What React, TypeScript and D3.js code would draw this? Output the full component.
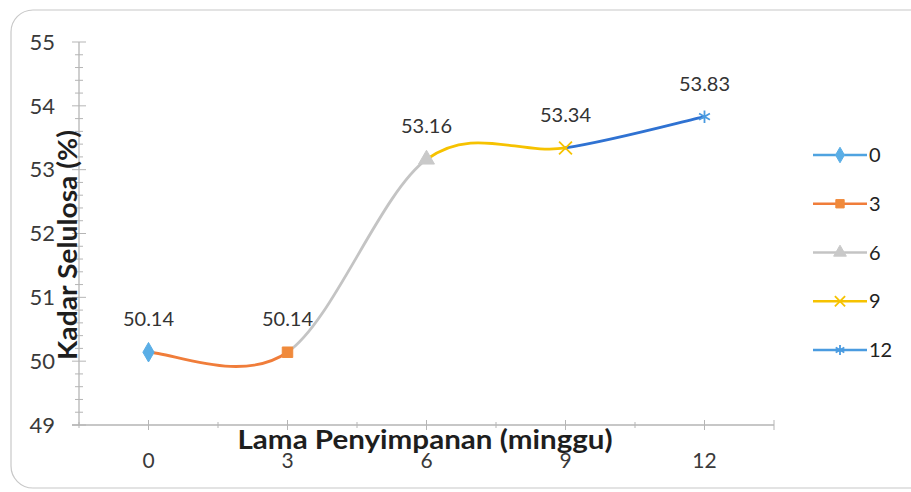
import React, { useEffect, useRef } from 'react';
import * as d3 from 'd3';

const weeks = [0, 3, 6, 9, 12];
const cellulose = [50.14, 50.14, 53.16, 53.34, 53.83];
const seriesNames = ['0', '3', '6', '9', '12'];
const lineColors = ['#4fa3e0', '#f07d3a', '#c4c4c4', '#f6c200', '#2f72d2'];
const markerColors = ['#5aaee6', '#f08a3c', '#c9c9c9', '#f6c200', '#4a9be0'];
const markerTypes = ['diamond', 'square', 'triangle', 'times', 'asterisk'];
const yTicks = [49, 50, 51, 52, 53, 54, 55];
const xTicks = [0, 3, 6, 9, 12];

const W = 911;
const H = 492;
const font = 'Lato, "Open Sans", sans-serif';

const symbolFor = (t: string) => {
  switch (t) {
    case 'diamond':
      return d3.symbolDiamond;
    case 'square':
      return d3.symbolSquare;
    case 'triangle':
      return d3.symbolTriangle;
    case 'times':
      return d3.symbolTimes;
    default:
      return d3.symbolAsterisk;
  }
};

const App: React.FC = () => {
  const svgRef = useRef<SVGSVGElement>(null);

  useEffect(() => {
    if (!svgRef.current) return;
    const svg = d3.select(svgRef.current);
    svg.selectAll('*').remove();

    const x = d3.scaleLinear().domain([-1.5, 13.5]).range([79, 774]);
    const y = d3.scaleLinear().domain([49, 55]).range([425, 42]);

    // chart frame
    svg
      .append('rect')
      .attr('x', 11)
      .attr('y', 10)
      .attr('width', W + 30)
      .attr('height', 478)
      .attr('rx', 22)
      .attr('fill', '#fff')
      .attr('stroke', '#c8c8c8')
      .attr('stroke-width', 1.2);

    const axisColor = '#b5b5b5';

    // y axis
    svg
      .append('line')
      .attr('x1', x(-1.5))
      .attr('x2', x(-1.5))
      .attr('y1', y(55))
      .attr('y2', y(49))
      .attr('stroke', axisColor)
      .attr('stroke-width', 1.3);

    const minorY = d3.range(49, 55.001, 0.2);
    svg
      .append('g')
      .selectAll('line')
      .data(minorY)
      .enter()
      .append('line')
      .attr('x1', (d) => (Math.abs(d - Math.round(d)) < 0.01 ? x(-1.5) - 7 : x(-1.5) - 4))
      .attr('x2', (d) => (Math.abs(d - Math.round(d)) < 0.01 ? x(-1.5) + 7 : x(-1.5) + 4))
      .attr('y1', (d) => y(d))
      .attr('y2', (d) => y(d))
      .attr('stroke', axisColor)
      .attr('stroke-width', 1);

    svg
      .append('g')
      .selectAll('text')
      .data(yTicks)
      .enter()
      .append('text')
      .attr('x', 55)
      .attr('y', (d) => y(d))
      .attr('dy', '0.35em')
      .attr('text-anchor', 'end')
      .attr('font-family', font)
      .attr('font-size', 22)
      .attr('fill', '#3a3a3a')
      .text((d) => d);

    // x axis
    svg
      .append('line')
      .attr('x1', x(-1.5) - 7)
      .attr('x2', x(13.5))
      .attr('y1', y(49))
      .attr('y2', y(49))
      .attr('stroke', axisColor)
      .attr('stroke-width', 1.3);

    const xTickVals = d3.range(-1.5, 13.501, 1.5);
    svg
      .append('g')
      .selectAll('line')
      .data(xTickVals)
      .enter()
      .append('line')
      .attr('x1', (d) => x(d))
      .attr('x2', (d) => x(d))
      .attr('y1', (d) => (d % 3 === 0 || d === 13.5 ? y(49) - 5 : y(49) - 3))
      .attr('y2', (d) => (d % 3 === 0 || d === 13.5 ? y(49) + 5 : y(49) + 3))
      .attr('stroke', axisColor)
      .attr('stroke-width', 1);

    svg
      .append('g')
      .selectAll('text')
      .data(xTicks)
      .enter()
      .append('text')
      .attr('x', (d) => x(d))
      .attr('y', 461)
      .attr('dy', '0.35em')
      .attr('text-anchor', 'middle')
      .attr('font-family', font)
      .attr('font-size', 21)
      .attr('fill', '#3a3a3a')
      .text((d) => d);

    // smoothed segments (Excel-style Catmull-Rom), coloured per series
    const pts = weeks.map((w, i) => [x(w), y(cellulose[i])] as [number, number]);
    const n = pts.length;
    for (let i = 0; i < n - 1; i++) {
      const p0 = pts[Math.max(i - 1, 0)];
      const p1 = pts[i];
      const p2 = pts[i + 1];
      const p3 = pts[Math.min(i + 2, n - 1)];
      const c1 = [p1[0] + (p2[0] - p0[0]) / 6, p1[1] + (p2[1] - p0[1]) / 6];
      const c2 = [p2[0] - (p3[0] - p1[0]) / 6, p2[1] - (p3[1] - p1[1]) / 6];
      const path = d3.path();
      path.moveTo(p1[0], p1[1]);
      path.bezierCurveTo(c1[0], c1[1], c2[0], c2[1], p2[0], p2[1]);
      svg
        .append('path')
        .attr('d', path.toString())
        .attr('fill', 'none')
        .attr('stroke', lineColors[i + 1])
        .attr('stroke-width', 2.8)
        .attr('stroke-linecap', 'round');
    }

    // markers
    const drawMarker = (g: d3.Selection<any, any, any, any>, i: number, cx: number, cy: number, size: number) => {
      const t = markerTypes[i];
      const stroked = t === 'times' || t === 'asterisk';
      g.append('path')
        .attr('d', d3.symbol().type(symbolFor(t)).size(size)())
        .attr('transform', `translate(${cx},${cy})`)
        .attr('fill', stroked ? 'none' : markerColors[i])
        .attr('stroke', markerColors[i])
        .attr('stroke-width', stroked ? 1.8 : 1);
    };

    const mg = svg.append('g');
    pts.forEach((p, i) => drawMarker(mg, i, p[0], p[1], i === 0 ? 110 : 110));

    // data labels
    svg
      .append('g')
      .selectAll('text')
      .data(cellulose)
      .enter()
      .append('text')
      .attr('x', (d, i) => x(weeks[i]))
      .attr('y', (d) => y(d) - 33)
      .attr('dy', '0.35em')
      .attr('text-anchor', 'middle')
      .attr('font-family', font)
      .attr('font-size', 20)
      .attr('fill', '#333')
      .text((d) => d.toFixed(2));

    // axis titles
    svg
      .append('text')
      .attr('transform', `translate(68,${245}) rotate(-90)`)
      .attr('text-anchor', 'middle')
      .attr('dy', '0.35em')
      .attr('font-family', font)
      .attr('font-weight', 'bold')
      .attr('font-size', 26)
      .attr('textLength', 230)
      .attr('lengthAdjust', 'spacingAndGlyphs')
      .attr('fill', '#1e1e1e')
      .text('Kadar Selulosa (%)');

    svg
      .append('text')
      .attr('x', 425)
      .attr('y', 440)
      .attr('text-anchor', 'middle')
      .attr('dy', '0.35em')
      .attr('font-family', font)
      .attr('font-weight', 'bold')
      .attr('font-size', 26)
      .attr('textLength', 375)
      .attr('lengthAdjust', 'spacingAndGlyphs')
      .attr('fill', '#1e1e1e')
      .text('Lama Penyimpanan (minggu)');

    // legend
    const legendY = d3.scalePoint<string>().domain(seriesNames).range([155, 350]);
    const lg = svg.append('g');
    seriesNames.forEach((name, i) => {
      const ly = legendY(name) || 0;
      lg.append('line')
        .attr('x1', 813)
        .attr('x2', 867)
        .attr('y1', ly)
        .attr('y2', ly)
        .attr('stroke', i === 4 ? markerColors[4] : lineColors[i])
        .attr('stroke-width', 2.6);
      drawMarker(lg, i, 840, ly, 70);
      lg.append('text')
        .attr('x', 869)
        .attr('y', ly)
        .attr('dy', '0.35em')
        .attr('font-family', font)
        .attr('font-size', 20)
        .attr('fill', '#222')
        .text(name);
    });
  }, []);

  return (
    <svg
      ref={svgRef}
      width={W}
      height={H}
      style={{ position: 'absolute', left: 0, top: 0, background: '#fff' }}
    />
  );
};

export default App;
